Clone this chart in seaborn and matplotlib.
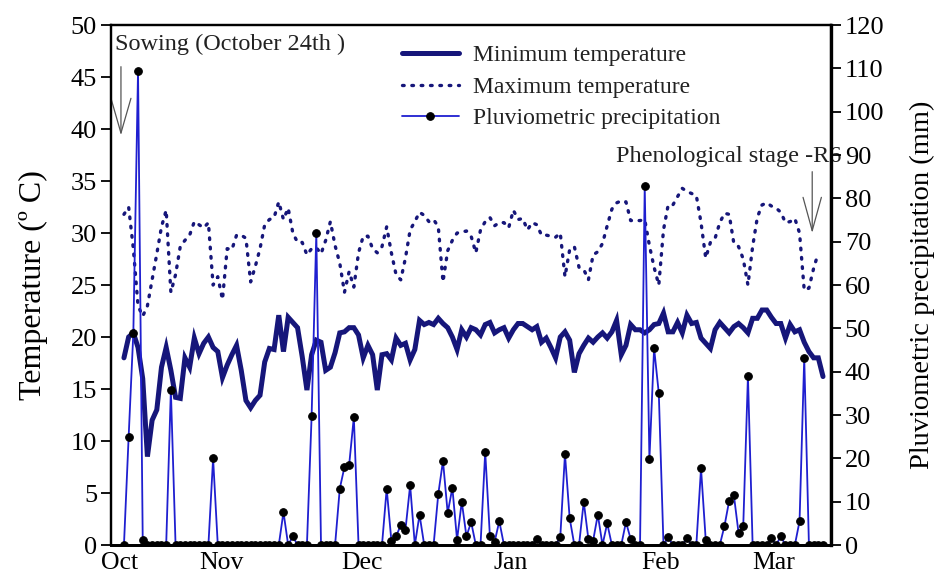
import numpy as np
import matplotlib
matplotlib.use("Agg")
import matplotlib.pyplot as plt
import seaborn as sns

# ---------------- data (daily series) ----------------
tmin = [18.0, 20.0, 20.4, 19.0, 16.0, 8.5, 12.0, 13.0, 17.1, 19.0,
        16.8, 14.2, 14.1, 18.0, 17.1, 19.9, 18.4, 19.4, 20.0, 19.0,
        18.6, 16.1, 17.3, 18.3, 19.2, 16.8, 13.9, 13.2, 13.9, 14.4,
        17.6, 18.9, 18.8, 22.1, 18.6, 21.9, 21.4, 20.9, 18.1, 14.9,
        18.3, 19.7, 19.5, 16.8, 17.1, 18.5, 20.4, 20.5, 20.9, 20.9,
        20.2, 18.0, 19.2, 18.3, 14.9, 18.3, 18.4, 17.8, 19.9, 19.2,
        19.4, 17.8, 18.8, 21.6, 21.2, 21.4, 21.2, 21.8, 21.3, 20.9,
        20.0, 18.8, 20.7, 20.0, 20.9, 20.7, 20.2, 21.2, 21.4, 20.4,
        20.7, 20.9, 19.9, 20.7, 21.3, 21.3, 21.0, 20.7, 21.0, 19.5,
        19.9, 19.0, 18.0, 20.0, 20.5, 19.7, 16.6, 18.4, 19.2, 19.9,
        19.5, 20.0, 20.4, 19.9, 20.5, 21.6, 18.3, 19.2, 21.2, 20.7,
        20.7, 20.4, 20.7, 21.2, 21.3, 22.3, 20.5, 20.5, 21.4, 20.4,
        22.1, 21.3, 21.4, 19.9, 19.4, 18.9, 20.7, 21.4, 20.9, 20.4,
        21.0, 21.3, 20.9, 20.4, 21.8, 21.8, 22.6, 22.6, 21.9, 21.3,
        21.3, 19.9, 21.2, 20.5, 20.7, 19.5, 18.6, 18.0, 18.0, 16.2]

tmax = [31.8, 32.5, 28.5, 23.0, 22.0, 23.0, 25.5, 28.0, 30.6, 32.2,
        24.3, 26.0, 28.7, 29.3, 29.8, 31.1, 30.8, 30.5, 31.0, 25.0,
        25.8, 23.6, 28.5, 28.4, 29.8, 29.8, 29.5, 25.3, 26.8, 28.5,
        30.8, 31.3, 31.5, 33.0, 31.3, 32.4, 30.0, 29.1, 29.1, 27.9,
        28.5, 28.6, 28.0, 29.3, 31.1, 28.8, 27.1, 24.3, 26.3, 24.8,
        28.1, 29.7, 29.7, 28.5, 28.1, 28.7, 30.6, 28.1, 26.0, 25.5,
        27.6, 30.3, 31.1, 32.0, 31.7, 31.1, 31.3, 30.6, 25.3, 28.3,
        29.3, 30.0, 30.1, 30.2, 29.7, 28.1, 30.3, 31.1, 31.5, 30.7,
        31.0, 31.0, 30.5, 32.2, 31.3, 31.4, 30.3, 31.0, 30.8, 29.8,
        29.8, 29.7, 29.6, 30.0, 25.8, 28.4, 28.7, 26.7, 26.5, 25.5,
        27.9, 28.2, 29.0, 30.7, 32.3, 32.9, 33.1, 33.0, 31.2, 31.2,
        31.2, 31.3, 28.8, 26.7, 25.0, 30.3, 32.7, 32.7, 33.5, 34.3,
        34.0, 33.8, 33.6, 31.0, 27.6, 29.1, 29.5, 31.0, 31.9, 31.8,
        29.0, 28.7, 27.5, 25.0, 28.7, 31.5, 32.7, 32.9, 32.6, 32.4,
        32.0, 31.0, 31.1, 31.4, 30.0, 24.5, 24.7, 26.6, 28.1]

precip = [0, 25, 49, 109.5, 1.2, 0, 0, 0, 0, 0,
          35.8, 0, 0, 0, 0, 0, 0, 0, 0, 20,
          0, 0, 0, 0, 0, 0, 0, 0, 0, 0,
          0, 0, 0, 0, 7.6, 0, 2, 0, 0, 0,
          29.8, 72, 0, 0, 0, 0, 13, 18, 18.5, 29.5,
          0, 0, 0, 0, 0, 0, 13, 1, 2, 4.6,
          3.5, 13.8, 0, 7, 0, 0, 0, 11.8, 19.4, 7.4,
          13.2, 1.2, 10, 2, 5.3, 0, 0, 21.5, 2, 0.7,
          5.5, 0, 0, 0, 0, 0, 0, 0, 1.4, 0,
          0, 0, 0, 1.8, 21, 6.2, 0, 0, 10, 1.3,
          1, 7, 0, 5, 0, 0, 0, 5.3, 1.4, 0,
          0, 82.8, 19.8, 45.4, 35, 0, 1.8, 0, 0, 0,
          1.6, 0, 0, 17.7, 1.2, 0, 0, 0, 4.4, 10.2,
          11.5, 2.8, 4.4, 39, 0, 0, 0, 0, 1.6, 0,
          2, 0, 0, 0, 5.5, 43.2, 0, 0, 0, 0]

month_labels = ["Oct", "Nov", "Dec", "Jan", "Feb", "Mar"]
month_pos = [-0.85, 20.7, 50.7, 82.5, 114.3, 138.6]

temp_ticks = list(range(0, 51, 5))
rain_ticks = list(range(0, 121, 10))

# ---------------- style ----------------
sns.set_theme(style="white")
plt.rcParams["font.family"] = ["Liberation Serif", "DejaVu Sans"]

navy = "#16167a"
blue = "#1f1fd0"

fig = plt.figure(figsize=(9.34, 5.79), dpi=100)
ax = fig.add_axes([0.1188, 0.0587, 0.7709, 0.898])

days_min = np.arange(len(tmin))
days_max = np.arange(len(tmax))
days_p = np.arange(len(precip))

sns.lineplot(x=days_min, y=tmin, ax=ax, color=navy, linewidth=3.6,
             solid_joinstyle="miter")
sns.lineplot(x=days_max, y=tmax, ax=ax, color=navy, linewidth=2.4,
             linestyle=(0, (0.5, 2.3)), dash_capstyle="round")

ax2 = ax.twinx()
sns.lineplot(x=days_p, y=precip, ax=ax2, color=blue, linewidth=1.3,
             marker="o", markersize=5.5, markerfacecolor="black",
             markeredgecolor="black")

ax.set_xlim(-2.77, 150.7)
ax.set_ylim(0, 50)
ax2.set_ylim(0, 120)
ax.set_yticks(temp_ticks)
ax2.set_yticks(rain_ticks)
ax.set_xticks(month_pos)
ax.set_xticklabels(month_labels)

ax.tick_params(axis="y", direction="out", length=7, width=1.3, labelsize=19,
               left=True, pad=3, colors="black")
ax.tick_params(axis="x", length=0, labelsize=18.5, pad=5, colors="black")
ax2.tick_params(axis="y", direction="out", length=7, width=1.3, labelsize=19,
                right=True, pad=3, colors="black")

ax.set_ylabel("Temperature (º C)", fontsize=23, labelpad=16, color="black")
ax2.set_ylabel("Pluviometric precipitation (mm)", fontsize=20.5, labelpad=18,
               color="black")
ax.set_xlabel("")

for a in (ax, ax2):
    for s in a.spines.values():
        s.set_color("black")
        s.set_linewidth(1.6)
ax2.spines["right"].set_linewidth(2.4)
ax2.spines["bottom"].set_linewidth(2.0)
ax.spines["bottom"].set_linewidth(2.0)

# annotations
ax.text(0.0056, 0.952, "Sowing (October 24th )", transform=ax.transAxes,
        fontsize=17.5, va="baseline", ha="left", color="#222222")
ax.annotate("", xy=(-0.64, 39.4), xytext=(-0.64, 46.0),
            arrowprops=dict(arrowstyle="->,head_length=1.25,head_width=0.36",
                            color="#555555", lw=0.9, mutation_scale=20,
                            shrinkA=0, shrinkB=0))
ax.text(0.701, 0.7365, "Phenological stage -R6", transform=ax.transAxes,
        fontsize=17.5, va="baseline", ha="left", color="#222222", clip_on=False)
ax.annotate("", xy=(146.7, 30.0), xytext=(146.7, 35.9),
            arrowprops=dict(arrowstyle="->,head_length=1.2,head_width=0.33",
                            color="#555555", lw=0.9, mutation_scale=20,
                            shrinkA=0, shrinkB=0))

handles = [ax.lines[0], ax.lines[1], ax2.lines[0]]
labels = ["Minimum temperature", "Maximum temperature",
          "Pluviometric precipitation"]
leg = ax2.legend(handles, labels, loc="upper left",
                 bbox_to_anchor=(0.404, 0.962), frameon=False, fontsize=17,
                 handlelength=2.4, handletextpad=0.6, labelspacing=0.42,
                 borderpad=0, borderaxespad=0)
for t in leg.get_texts():
    t.set_color("#222222")

fig.savefig("out.png", dpi=100)
